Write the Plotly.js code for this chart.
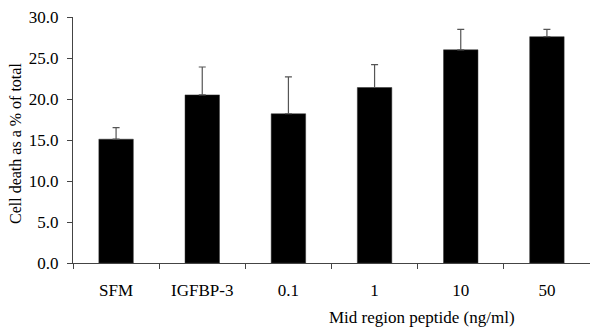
<!DOCTYPE html>
<html>
<head>
<meta charset="utf-8">
<script src="https://cdn.plot.ly/plotly-3.0.1.min.js"></script>
<style>html,body{margin:0;padding:0;background:#fff;overflow:hidden}#chart{width:590px;height:330px}</style>
</head>
<body>
<div id="chart"></div>
<script>
const categories = ['SFM', 'IGFBP-3', '0.1', '1', '10', '50'];
const cellDeath = [15.1, 20.5, 18.2, 21.4, 26.0, 27.6];
const errorUpper = [1.4, 3.4, 4.5, 2.8, 2.5, 0.9];
const errorLower = [0, 0, 0, 0, 0, 0];
const yTickVals = [0, 5, 10, 15, 20, 25, 30];
const yTitle = 'Cell death as a % of total';
const xTitle = 'Mid region peptide (ng/ml)';

const serif = 'Liberation Serif, Times New Roman, serif';

const trace = {
  type: 'bar',
  x: categories,
  y: cellDeath,
  width: 0.4,
  marker: {color: '#000000', line: {color: '#333333', width: 0.5}},
  error_y: {
    type: 'data',
    symmetric: false,
    array: errorUpper,
    arrayminus: errorLower,
    color: '#555555',
    thickness: 1.2,
    width: 3.5
  },
  hoverinfo: 'skip'
};

const layout = {
  width: 590,
  height: 330,
  margin: {l: 73, r: 0, t: 17, b: 67, pad: 0},
  paper_bgcolor: '#ffffff',
  plot_bgcolor: '#ffffff',
  showlegend: false,
  font: {family: serif, color: '#000000', size: 17},
  xaxis: {
    type: 'category',
    range: [-0.5, 5.5],
    showgrid: false,
    zeroline: false,
    showline: true,
    linecolor: '#444444',
    linewidth: 1,
    ticks: 'outside',
    tickson: 'boundaries',
    ticklen: 5,
    tickcolor: '#444444',
    tickfont: {family: serif, size: 17, color: '#000000'},
    ticklabelstandoff: 12
  },
  yaxis: {
    range: [0, 30],
    tickvals: yTickVals,
    tickformat: '.1f',
    showgrid: false,
    zeroline: false,
    showline: true,
    linecolor: '#444444',
    linewidth: 1,
    ticks: 'outside',
    ticklen: 5,
    tickcolor: '#444444',
    tickfont: {family: serif, size: 17, color: '#000000'},
    ticklabelstandoff: 5
  },
  annotations: [{
    text: xTitle,
    xref: 'paper', yref: 'paper',
    x: (422 - 73) / 517, y: 0,
    xanchor: 'center', yanchor: 'middle',
    yshift: -54,
    showarrow: false,
    font: {family: serif, size: 17, color: '#000000'}
  }, {
    text: yTitle,
    xref: 'paper', yref: 'paper',
    x: 0, y: (263 - 144) / 246,
    xanchor: 'center', yanchor: 'middle',
    xshift: -58,
    textangle: -90,
    showarrow: false,
    font: {family: serif, size: 16, color: '#000000'}
  }]
};

Plotly.newPlot('chart', [trace], layout, {displayModeBar: false, staticPlot: true});
</script>
</body>
</html>
